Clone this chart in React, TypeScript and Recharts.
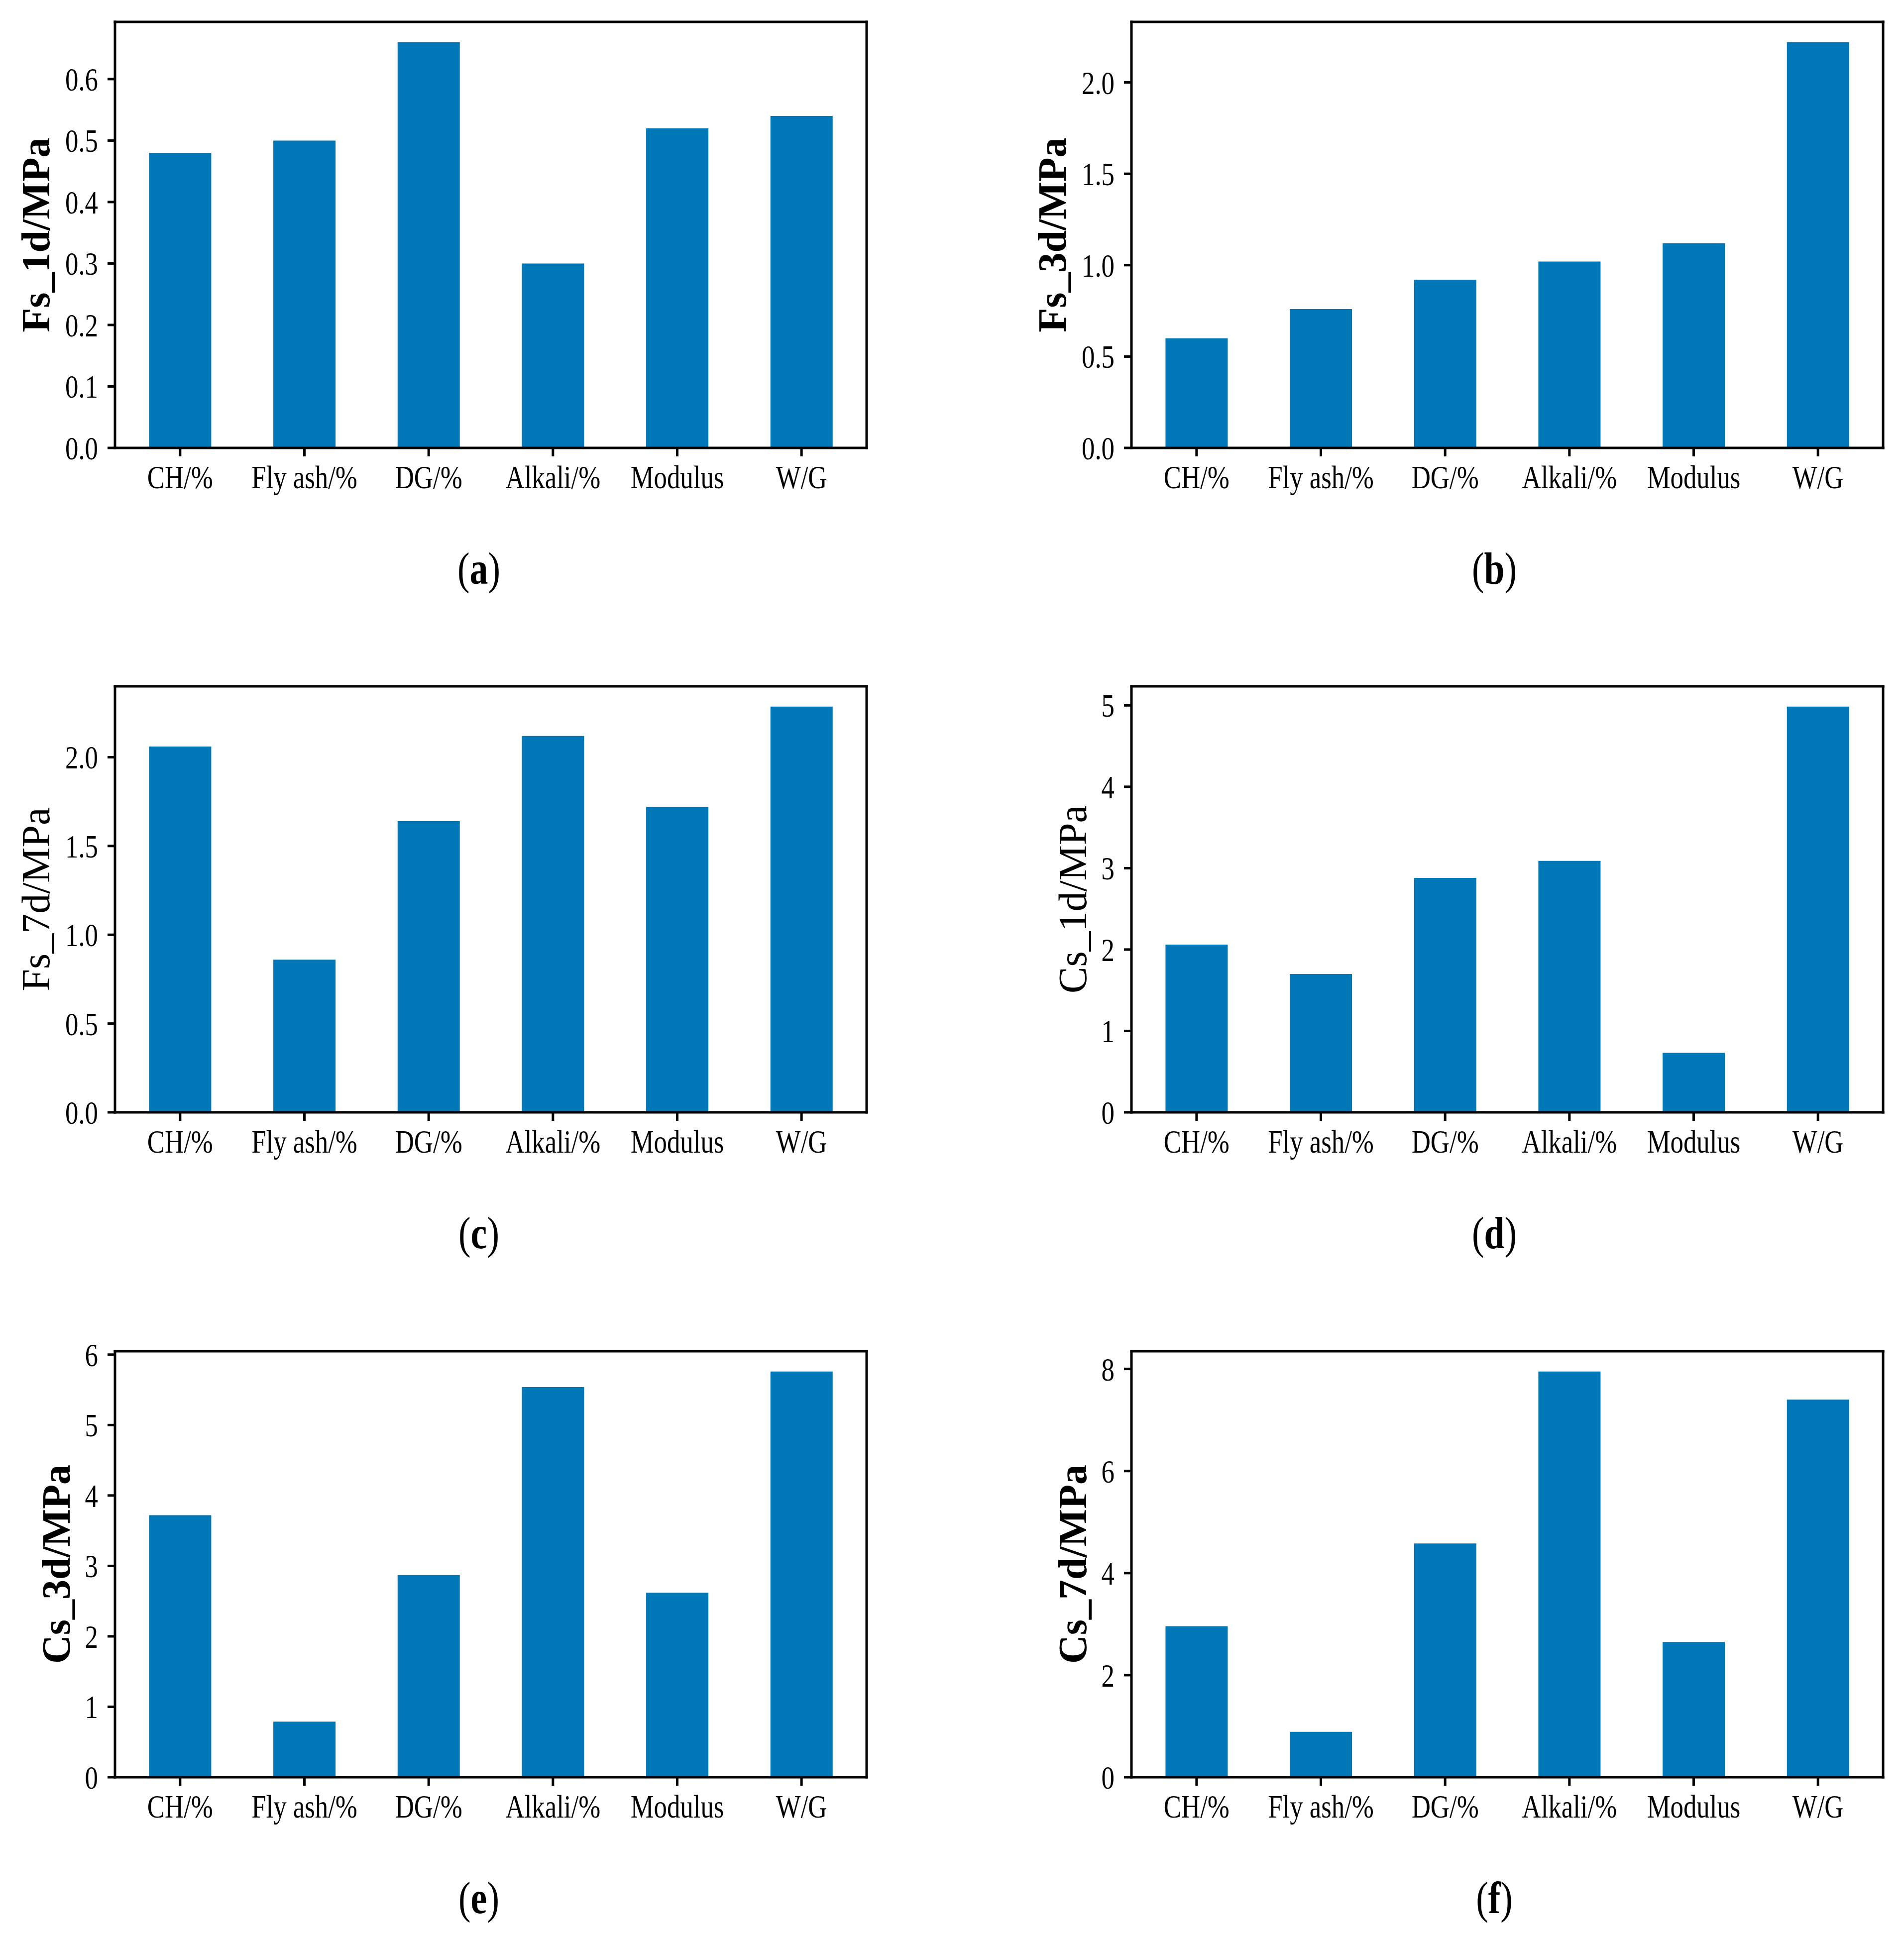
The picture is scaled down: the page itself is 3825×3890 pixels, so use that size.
import React from 'react';
import { BarChart, Bar, XAxis, YAxis, CartesianGrid } from 'recharts';

const categories = ['CH/%', 'Fly ash/%', 'DG/%', 'Alkali/%', 'Modulus', 'W/G'];

const fs1d = [0.48, 0.5, 0.66, 0.3, 0.52, 0.54];
const fs3d = [0.6, 0.76, 0.92, 1.02, 1.12, 2.22];
const fs7d = [2.06, 0.86, 1.64, 2.12, 1.72, 2.285];
const cs1d = [2.06, 1.7, 2.88, 3.09, 0.73, 4.985];
const cs3d = [3.72, 0.79, 2.87, 5.54, 2.62, 5.76];
const cs7d = [2.96, 0.89, 4.58, 7.95, 2.65, 7.4];

const ticksFs1d = [0, 0.1, 0.2, 0.3, 0.4, 0.5, 0.6];
const ticksHalf = [0, 0.5, 1.0, 1.5, 2.0];
const ticksCs1d = [0, 1, 2, 3, 4, 5];
const ticksCs3d = [0, 1, 2, 3, 4, 5, 6];
const ticksCs7d = [0, 2, 4, 6, 8];

const BAR_COLOR = '#0077b6';
const FONT = '"Liberation Serif", "Times New Roman", Times, serif';
const SQUEEZE = 0.8;

const axisStyle = { stroke: '#000', strokeWidth: 5, strokeLinecap: 'square' as const };
const tickStyle = { stroke: '#000', strokeWidth: 5 };

const XTick = (props: any) => {
  const { x, y, payload } = props;
  return (
    <g transform={`translate(${x},${y})`}>
      <text transform={`scale(${SQUEEZE},1)`} textAnchor="middle" dy={64} fontFamily={FONT} fontSize={66} fill="#000">
        {payload.value}
      </text>
    </g>
  );
};

const makeYTick = (decimals: number) => (props: any) => {
  const { x, y, payload } = props;
  return (
    <g transform={`translate(${x},${y})`}>
      <text transform={`scale(${SQUEEZE},1)`} textAnchor="end" dy={23} fontFamily={FONT} fontSize={66} fill="#000">
        {Number(payload.value).toFixed(decimals)}
      </text>
    </g>
  );
};

const makeYLabel = (text: string, offset: number, bold: boolean) => (props: any) => {
  const vb = props.viewBox || {};
  const x = vb.x + vb.width + offset;
  const y = vb.y + vb.height / 2;
  return (
    <text
      x={x}
      y={y}
      transform={`rotate(-90, ${x}, ${y})`}
      textAnchor="middle"
      fontFamily={FONT}
      fontSize={80}
      fontWeight={bold ? 'bold' : 'normal'}
      fill="#000"
    >
      {text}
    </text>
  );
};

// top and right spines of the matplotlib-style box
const topSpine = (props: any) => [props.offset.top];
const rightSpine = (props: any) => [props.offset.left + props.offset.width];

interface PanelProps {
  values: number[];
  ticks: number[];
  decimals: number;
  label: string;
  labelOffset: number;
  bold: boolean;
  left: number;
  top: number;
}

const Panel: React.FC<PanelProps> = ({ values, ticks, decimals, label, labelOffset, bold, left, top }) => {
  const data = categories.map((name, i) => ({ name, value: values[i] }));
  return (
    <div style={{ position: 'absolute', left, top }}>
      <BarChart
        width={1781}
        height={1020}
        data={data}
        margin={{ top: 44, right: 40, left: 0, bottom: 0 }}
        barCategoryGap="25%"
      >
        <CartesianGrid
          stroke="#000"
          strokeWidth={5}
          strokeLinecap="square"
          horizontalCoordinatesGenerator={topSpine}
          verticalCoordinatesGenerator={rightSpine}
        />
        <XAxis
          dataKey="name"
          type="category"
          height={120}
          padding={{ left: 6, right: 6 }}
          axisLine={axisStyle}
          tickLine={tickStyle}
          tickSize={17}
          tickMargin={0}
          tick={<XTick />}
          interval={0}
        />
        <YAxis
          width={231}
          type="number"
          domain={[0, (dataMax: number) => dataMax * 1.05]}
          ticks={ticks}
          interval={0}
          axisLine={axisStyle}
          tickLine={tickStyle}
          tickSize={15}
          tickMargin={19}
          tick={makeYTick(decimals)}
          label={makeYLabel(label, labelOffset, bold)}
        />
        <Bar dataKey="value" fill={BAR_COLOR} isAnimationActive={false} />
      </BarChart>
    </div>
  );
};

const Caption = ({ letter, x, y }: { letter: string; x: number; y: number }) => (
  <g transform={`translate(${x},${y})`}>
    <text transform="scale(0.82,1)" textAnchor="middle" fontFamily={FONT} fontSize={90} fill="#000">
      <tspan>(</tspan>
      <tspan fontWeight="bold">{letter}</tspan>
      <tspan>)</tspan>
    </text>
  </g>
);

const colLeft = [0, 2042];
const rowTop = [0, 1335, 2671];
const captionX = [962, 3002];
const captionY = [1173, 2508, 3844];

export default function App() {
  return (
    <div style={{ position: 'absolute', left: 0, top: 0, width: 3825, height: 3890, background: '#fff', overflow: 'hidden' }}>
      <Panel values={fs1d} ticks={ticksFs1d} decimals={1} label="Fs_1d/MPa" labelOffset={-132} bold left={colLeft[0]} top={rowTop[0]} />
      <Panel values={fs3d} ticks={ticksHalf} decimals={1} label="Fs_3d/MPa" labelOffset={-132} bold left={colLeft[1]} top={rowTop[0]} />
      <Panel values={fs7d} ticks={ticksHalf} decimals={1} label="Fs_7d/MPa" labelOffset={-132} bold={false} left={colLeft[0]} top={rowTop[1]} />
      <Panel values={cs1d} ticks={ticksCs1d} decimals={0} label="Cs_1d/MPa" labelOffset={-91} bold={false} left={colLeft[1]} top={rowTop[1]} />
      <Panel values={cs3d} ticks={ticksCs3d} decimals={0} label="Cs_3d/MPa" labelOffset={-91} bold left={colLeft[0]} top={rowTop[2]} />
      <Panel values={cs7d} ticks={ticksCs7d} decimals={0} label="Cs_7d/MPa" labelOffset={-91} bold left={colLeft[1]} top={rowTop[2]} />
      <svg width={3825} height={3890} style={{ position: 'absolute', left: 0, top: 0, pointerEvents: 'none' }}>
        <Caption letter="a" x={captionX[0]} y={captionY[0]} />
        <Caption letter="b" x={captionX[1]} y={captionY[0]} />
        <Caption letter="c" x={captionX[0]} y={captionY[1]} />
        <Caption letter="d" x={captionX[1]} y={captionY[1]} />
        <Caption letter="e" x={captionX[0]} y={captionY[2]} />
        <Caption letter="f" x={captionX[1]} y={captionY[2]} />
      </svg>
    </div>
  );
}
